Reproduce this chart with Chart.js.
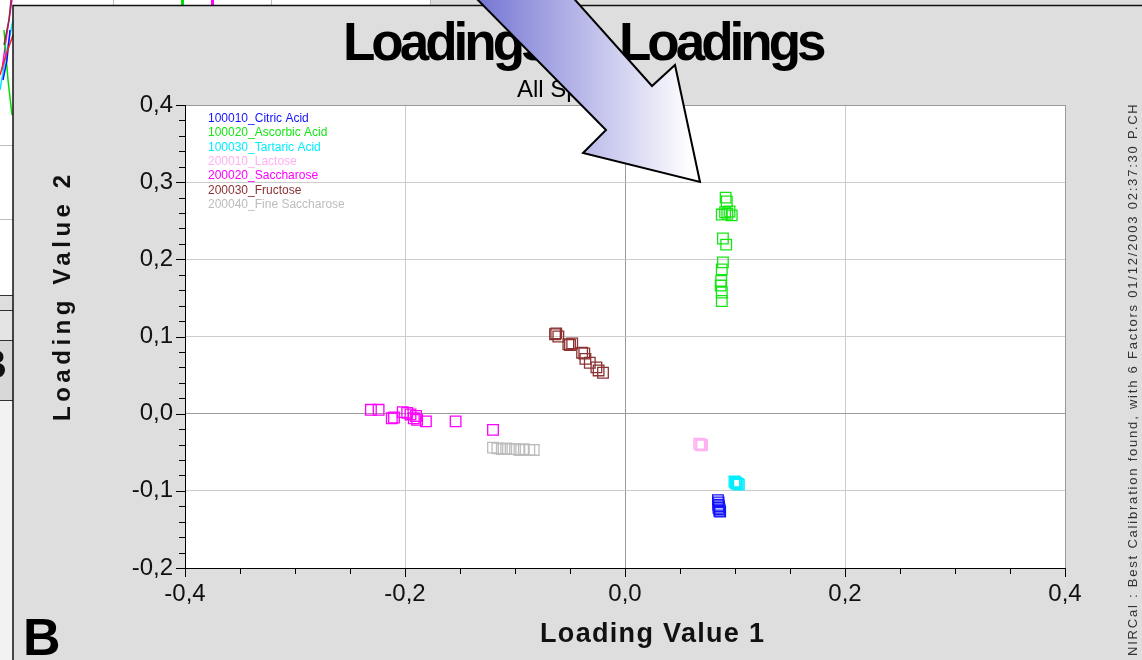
<!DOCTYPE html>
<html><head><meta charset="utf-8">
<script src="https://cdn.jsdelivr.net/npm/chart.js@4.4.1/dist/chart.umd.min.js"></script>
<style>html,body{margin:0;padding:0;background:#dedede;overflow:hidden}#wrap{width:1142px;height:660px;position:relative}</style>
</head><body><div id="wrap"><canvas id="c" width="1142" height="660"></canvas></div>
<script>
// ---- data ----
const seriesNames = ['100010_Citric Acid','100020_Ascorbic Acid','100030_Tartaric Acid','200010_Lactose','200020_Saccharose','200030_Fructose','200040_Fine Saccharose'];
const seriesColors = ['#1414ff','#14e614','#00eeff','#ffb0f0','#ff00ff','#8b3232','#bcbcbc'];

const citricX = [0.0845,0.0850,0.0848,0.0855,0.0850,0.0860,0.0865,0.0858];
const citricY = [-0.112,-0.115,-0.118,-0.120,-0.122,-0.124,-0.127,-0.126];

const ascorbicX = [0.0915,0.0925,0.0880,0.0910,0.0930,0.0950,0.0970,0.0890,0.0920,0.0890,0.0880,0.0875,0.0870,0.0880,0.0880];
const ascorbicY = [0.280,0.275,0.258,0.261,0.259,0.262,0.257,0.227,0.219,0.196,0.187,0.172,0.166,0.157,0.146];

const tartaricX = [0.0995,0.1005,0.1015,0.1025,0.1035,0.1010];
const tartaricY = [-0.088,-0.089,-0.090,-0.091,-0.092,-0.0905];

const lactoseX = [0.0675,0.0685,0.0695,0.0700];
const lactoseY = [-0.039,-0.040,-0.041,-0.0405];

const saccharoseX = [-0.231,-0.224,-0.212,-0.210,-0.202,-0.198,-0.195,-0.192,-0.190,-0.189,-0.181,-0.154,-0.120];
const saccharoseY = [0.005,0.005,-0.006,-0.005,0.002,0.001,-0.001,-0.006,-0.003,-0.008,-0.010,-0.010,-0.021];

const fructoseX = [-0.0636,-0.0625,-0.0606,-0.0515,-0.0500,-0.0480,-0.0390,-0.0370,-0.0360,-0.0320,-0.0260,-0.0240,-0.0200];
const fructoseY = [0.103,0.104,0.100,0.090,0.089,0.091,0.079,0.078,0.071,0.066,0.060,0.056,0.053];

const fineSaccharoseX = [-0.120,-0.116,-0.112,-0.108,-0.104,-0.100,-0.096,-0.092,-0.087,-0.083];
const fineSaccharoseY = [-0.044,-0.045,-0.046,-0.045,-0.046,-0.046,-0.047,-0.046,-0.047,-0.047];

const xMajor = [-0.4,-0.2,0.0,0.2,0.4];
const xTickLabels = ['-0,4','-0,2','0,0','0,2','0,4'];
const yMajor = [-0.2,-0.1,0.0,0.1,0.2,0.3,0.4];
const yTickLabels = ['-0,2','-0,1','0,0','0,1','0,2','0,3','0,4'];

const chartTitle = 'Loadings vs Loadings';
const chartSubtitle = 'All Spectra';
const xTitle = 'Loading Value 1';
const yTitle = 'Loading Value 2';
const sideNote = 'NIRCal : Best Calibration found, with 6 Factors 01/12/2003 02:37:30 P.CH';
const panelLetter = 'B';

// ---- build ----
const allX = [citricX, ascorbicX, tartaricX, lactoseX, saccharoseX, fructoseX, fineSaccharoseX];
const allY = [citricY, ascorbicY, tartaricY, lactoseY, saccharoseY, fructoseY, fineSaccharoseY];
const datasets = seriesNames.map((name,i)=>({
  label: name,
  data: allX[i].map((x,j)=>({x:x, y:allY[i][j]})),
  borderColor: seriesColors[i],
  backgroundColor: 'rgba(0,0,0,0)',
  pointStyle: 'rect',
  pointRadius: 7.5,
  pointBorderWidth: 1.3,
  showLine: false
}));

function findLabel(v, majors, labels){
  for (let i=0;i<majors.length;i++) if (Math.abs(v-majors[i])<1e-6) return labels[i];
  return '';
}
function isMajor(v, majors){ return majors.some(m=>Math.abs(v-m)<1e-6); }
function gridCol(v, majors, lo, hi){
  if (!isMajor(v, majors)) return 'rgba(0,0,0,0)';
  if (Math.abs(v)<1e-6) return '#9a9a9a';
  if (Math.abs(v-lo)<1e-6 || Math.abs(v-hi)<1e-6) return '#9a9a9a';
  return '#cdcdcd';
}

const FONT = '"Liberation Sans", Arial, sans-serif';

function fitSpacing(ctx, text, target){
  ctx.letterSpacing = '0px';
  const w = ctx.measureText(text).width;
  const sp = (target - w) / (text.length - 1);
  ctx.letterSpacing = sp.toFixed(2) + 'px';
}

const deco = {
  id: 'deco',
  beforeDraw(chart){
    const ctx = chart.ctx, a = chart.chartArea;
    ctx.save();
    ctx.fillStyle = '#dedede'; ctx.fillRect(0,0,1142,660);
    // left background window strip
    ctx.fillStyle = '#ffffff'; ctx.fillRect(0,0,13,295);
    ctx.fillRect(13,0,417,5);
    ctx.strokeStyle = '#bdbdbd'; ctx.lineWidth = 1;
    [145.5,219.5].forEach(y=>{ctx.beginPath();ctx.moveTo(0,y);ctx.lineTo(13,y);ctx.stroke();});
    [113.5,271.5,430.5].forEach(x=>{ctx.beginPath();ctx.moveTo(x,0);ctx.lineTo(x,5);ctx.stroke();});
    ctx.strokeStyle = '#333';
    [295.5,310.5,340.5,400.5].forEach(y=>{ctx.beginPath();ctx.moveTo(0,y);ctx.lineTo(13,y);ctx.stroke();});
    ctx.fillStyle = '#e4e4e4'; ctx.fillRect(0,311,13,29);
    ctx.fillStyle = '#d8d8d8'; ctx.fillRect(0,341,13,59);
    ctx.fillStyle = '#f2f2f2'; ctx.fillRect(0,401,13,259);
    ctx.fillStyle = '#111'; ctx.font = 'bold 40px '+FONT; ctx.fillText('B', -22, 378);
    // spectra bits
    const spec = [['#ff00ff',[[12,0],[6,40],[2,70]]],['#00e000',[[4,30],[8,80],[12,115]]],['#00e5ff',[[13,20],[5,60],[0,90]]],['#1010ff',[[10,30],[7,60],[3,80]]],['#ff2020',[[13,35],[6,55],[0,75]]],['#8b3030',[[11,0],[9,20],[4,45]]]];
    spec.forEach(([c,pts])=>{ctx.strokeStyle=c;ctx.lineWidth=1.5;ctx.beginPath();pts.forEach((p,i)=>i?ctx.lineTo(p[0],p[1]):ctx.moveTo(p[0],p[1]));ctx.stroke();});
    ctx.fillStyle='#00e000'; ctx.fillRect(181,0,3,5);
    ctx.fillStyle='#ff00ff'; ctx.fillRect(211,0,3,5);
    // panel border
    ctx.strokeStyle = '#111'; ctx.lineWidth = 1.5;
    ctx.beginPath(); ctx.moveTo(13,660); ctx.lineTo(13,5.5); ctx.lineTo(1142,5.5); ctx.stroke();
    // plot background
    ctx.fillStyle = '#ffffff';
    ctx.fillRect(a.left, a.top, a.right-a.left, a.bottom-a.top);
    ctx.restore();
  },
  afterDraw(chart){
    const ctx = chart.ctx, a = chart.chartArea;
    const xs = chart.scales.x, ys = chart.scales.y;
    ctx.save();
    // tick marks
    ctx.strokeStyle = '#000'; ctx.lineWidth = 1;
    ys.ticks.forEach(t=>{
      const p = Math.round(ys.getPixelForValue(t.value))+0.5;
      const len = isMajor(t.value, yMajor) ? 9 : 6;
      ctx.beginPath(); ctx.moveTo(a.left-len, p); ctx.lineTo(a.left, p); ctx.stroke();
    });
    xs.ticks.forEach(t=>{
      const p = Math.round(xs.getPixelForValue(t.value))+0.5;
      const len = isMajor(t.value, xMajor) ? 9 : 6;
      ctx.beginPath(); ctx.moveTo(p, a.bottom); ctx.lineTo(p, a.bottom+len); ctx.stroke();
    });
    // legend (text only)
    ctx.font = '12px '+FONT; ctx.textAlign='left'; ctx.textBaseline='alphabetic';
    chart.data.datasets.forEach((d,i)=>{
      ctx.fillStyle = d.borderColor;
      ctx.fillText(d.label, 208, 122 + i*14.3);
    });
    // axis titles
    ctx.fillStyle = '#111';
    ctx.font = 'bold 27px '+FONT;
    fitSpacing(ctx, xTitle, 224);
    ctx.fillText(xTitle, 540, 642);
    ctx.save();
    ctx.font = 'bold 24px '+FONT;
    ctx.translate(70, 421); ctx.rotate(-Math.PI/2);
    fitSpacing(ctx, yTitle, 246);
    ctx.fillText(yTitle, 0, 0);
    ctx.restore();
    // title & subtitle
    ctx.font = 'bold 53px '+FONT; ctx.letterSpacing='-4px';
    ctx.fillStyle = '#000';
    ctx.fillText(chartTitle, 343, 60);
    ctx.letterSpacing='0px';
    ctx.font = '24px '+FONT;
    ctx.fillText(chartSubtitle, 517, 97);
    // side note
    ctx.save();
    ctx.translate(1137, 656); ctx.rotate(-Math.PI/2);
    ctx.font = '13px '+FONT; ctx.fillStyle = '#333';
    fitSpacing(ctx, sideNote, 552);
    ctx.fillText(sideNote, 0, 0);
    ctx.restore();
    ctx.letterSpacing='0px';
    // panel letter
    ctx.font = 'bold 52px '+FONT; ctx.fillStyle='#000';
    ctx.fillText(panelLetter, 23, 655);
    // arrow
    const g = ctx.createLinearGradient(478,0,692,0);
    g.addColorStop(0,'#7676d4'); g.addColorStop(1,'#ffffff');
    ctx.beginPath();
    ctx.moveTo(470,-8); ctx.lineTo(606,130); ctx.lineTo(583,153); ctx.lineTo(700,182);
    ctx.lineTo(675,65); ctx.lineTo(652,86); ctx.lineTo(568,-8); ctx.closePath();
    ctx.fillStyle = g; ctx.fill();
    ctx.strokeStyle = '#000'; ctx.lineWidth = 2; ctx.lineJoin='miter'; ctx.stroke();
    ctx.restore();
  }
};

new Chart(document.getElementById('c'), {
  type: 'scatter',
  data: { datasets },
  options: {
    responsive: false, animation: false, devicePixelRatio: 1, events: [],
    layout: { padding: { left: 13, top: 105, right: 77, bottom: 0 } },
    plugins: { legend: { display: false }, title: { display: false }, tooltip: { enabled: false } },
    scales: {
      x: {
        type: 'linear', min: -0.4, max: 0.4,
        ticks: { stepSize: 0.05, autoSkip: false, maxRotation: 0, padding: 12, color: '#111',
                 font: { family: FONT, size: 24 },
                 callback: v => findLabel(v, xMajor, xTickLabels) },
        grid: { drawTicks: false, lineWidth: 1, color: c => gridCol(c.tick ? c.tick.value : 0, xMajor, -0.4, 0.4) },
        border: { color: '#000', width: 1 },
        afterFit: s => { s.height = 92; }
      },
      y: {
        type: 'linear', min: -0.2, max: 0.4,
        ticks: { stepSize: 0.02, autoSkip: false, padding: 12, color: '#111',
                 font: { family: FONT, size: 24 },
                 callback: v => findLabel(v, yMajor, yTickLabels) },
        grid: { drawTicks: false, lineWidth: 1, color: c => gridCol(c.tick ? c.tick.value : 0, yMajor, -0.2, 0.4) },
        border: { color: '#000', width: 1 },
        afterFit: s => { s.width = 172; }
      }
    }
  },
  plugins: [deco]
});
</script>
</body></html>
